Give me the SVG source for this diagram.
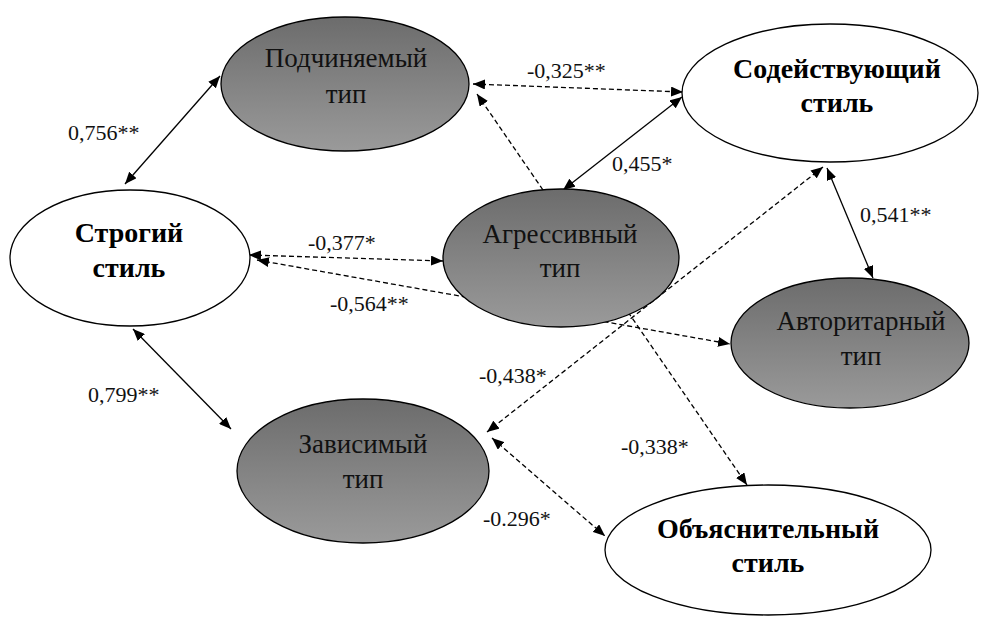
<svg xmlns="http://www.w3.org/2000/svg" width="981" height="617" viewBox="0 0 981 617">
<style>
.ln{stroke:#000;stroke-width:1.3;fill:none}
.dash{stroke-dasharray:5,3}
.dbl{marker-start:url(#ah);marker-end:url(#ah)}
.one{marker-end:url(#ah)}
.gray{fill:url(#g);stroke:#000;stroke-width:1.3}
.white{fill:#fff;stroke:#000;stroke-width:1.3}
text{font-family:'Liberation Serif','DejaVu Serif','Noto Serif',Tinos,'Times New Roman',serif}
.t{font-size:27px;fill:#111;text-anchor:middle}
.b{font-size:28px;font-weight:bold;fill:#000;text-anchor:middle}
.lbl{font-size:22px;fill:#111}
</style>
<defs>
<linearGradient id="g" x1="0" y1="0" x2="0" y2="1">
<stop offset="0" stop-color="#6c6c6c"/>
<stop offset="1" stop-color="#9a9a9a"/>
</linearGradient>
<marker id="ah" viewBox="0 0 12 10" refX="12" refY="5" markerWidth="12" markerHeight="10" markerUnits="userSpaceOnUse" orient="auto-start-reverse">
<path d="M0,0 L12,5 L0,10 z" fill="#000"/>
</marker>
</defs>
<g id="connectors">
<line class="ln dash dbl" x1="257" y1="260" x2="730" y2="344"/>
<line class="ln dash dbl" x1="823" y1="167" x2="487" y2="432"/>
<line class="ln dbl" x1="125" y1="184" x2="220" y2="76"/>
<line class="ln dbl" x1="133" y1="329" x2="231" y2="429"/>
<line class="ln dash dbl" x1="473" y1="84" x2="683" y2="92"/>
<line class="ln dash one" x1="543" y1="190" x2="477" y2="94"/>
<line class="ln dbl" x1="563" y1="190" x2="682" y2="97"/>
<line class="ln dbl" x1="827" y1="168" x2="873" y2="278"/>
<line class="ln dash dbl" x1="249" y1="255" x2="443" y2="261"/>
<line class="ln dash one" x1="628" y1="312" x2="747" y2="485"/>
<line class="ln dash dbl" x1="492" y1="438" x2="605" y2="536"/>
</g>
<g id="podchinyaemy">
<ellipse class="gray" cx="345" cy="84" rx="124" ry="67"/>
<text class="t" x="346" y="67">Подчиняемый</text>
<text class="t" x="346" y="103">тип</text>
</g>
<g id="sodeystvuyushchy">
<ellipse class="white" cx="830" cy="93" rx="148" ry="69"/>
<text class="b" x="837" y="78">Содействующий</text>
<text class="b" x="837" y="112">стиль</text>
</g>
<g id="strogy">
<ellipse class="white" cx="130" cy="258" rx="120" ry="68"/>
<text class="b" x="129" y="242">Строгий</text>
<text class="b" x="129" y="277">стиль</text>
</g>
<g id="agressivny">
<ellipse class="gray" cx="561" cy="258" rx="118" ry="69"/>
<text class="t" x="560" y="243">Агрессивный</text>
<text class="t" x="560" y="277">тип</text>
</g>
<g id="avtoritarny">
<ellipse class="gray" cx="850" cy="343" rx="119" ry="65"/>
<text class="t" x="861" y="330">Авторитарный</text>
<text class="t" x="861" y="365">тип</text>
</g>
<g id="zavisimy">
<ellipse class="gray" cx="363" cy="471" rx="126" ry="72"/>
<text class="t" x="363" y="453">Зависимый</text>
<text class="t" x="363" y="488">тип</text>
</g>
<g id="obyasnitelny">
<ellipse class="white" cx="768" cy="550" rx="163" ry="65"/>
<text class="b" x="768" y="538">Объяснительный</text>
<text class="b" x="768" y="572">стиль</text>
</g>
<g id="labels">
<text class="lbl" x="68" y="140">0,756**</text>
<text class="lbl" x="527" y="78">-0,325**</text>
<text class="lbl" x="612" y="171">0,455*</text>
<text class="lbl" x="860" y="222">0,541**</text>
<text class="lbl" x="308" y="250">-0,377*</text>
<text class="lbl" x="330" y="311">-0,564**</text>
<text class="lbl" x="88" y="402">0,799**</text>
<text class="lbl" x="479" y="383">-0,438*</text>
<text class="lbl" x="621" y="454">-0,338*</text>
<text class="lbl" x="483" y="526">-0.296*</text>
</g>
</svg>
